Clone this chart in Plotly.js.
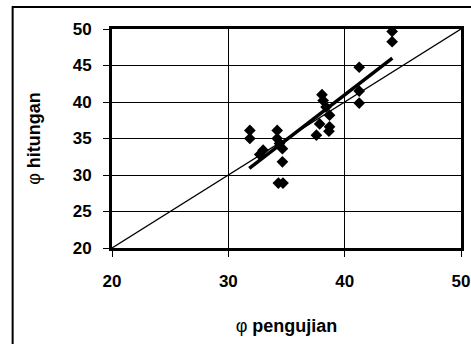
<!DOCTYPE html>
<html>
<head>
<meta charset="utf-8">
<script src="https://cdn.plot.ly/plotly-3.0.1.min.js"></script>
<style>
  html, body { margin: 0; padding: 0; background: #fff; }
  #chart { width: 471px; height: 344px; }
</style>
</head>
<body>
<div id="chart"></div>
<script>
// φ pengujian (measured) vs φ hitungan (calculated)
const phiPengujian = [31.85, 31.85, 32.99, 32.7, 34.2, 34.2, 34.4, 34.65, 34.65, 34.3, 34.7,
                      37.57, 37.85, 38.05, 38.15, 38.4, 38.7, 38.65, 38.7, 41.25, 41.25, 41.25, 44.08, 44.08];
const phiHitungan  = [36.1, 35.0, 33.4, 32.8, 36.1, 35.0, 34.3, 33.6, 31.8, 28.9, 28.9,
                      35.45, 37.0, 41.0, 40.2, 39.3, 38.2, 36.0, 36.6, 44.76, 41.49, 39.85, 49.67, 48.27];
// 1:1 reference line
const lineX = [20, 50];
const lineY = [20, 50];
// trend line (regression) end points
const trendX = [31.8, 44.1];
const trendY = [30.9, 46.0];

const xTicks = [20, 30, 40, 50];
const yTicks = [20, 25, 30, 35, 40, 45, 50];

const FONT = '"Liberation Sans", Arial, sans-serif';

const traces = [
  { x: lineX, y: lineY, mode: 'lines', line: { color: '#000', width: 1.3 }, hoverinfo: 'skip' },
  { x: trendX, y: trendY, mode: 'lines', line: { color: '#000', width: 3.5 }, hoverinfo: 'skip' },
  { x: phiPengujian, y: phiHitungan, mode: 'markers',
    marker: { symbol: 'diamond', size: 9, color: '#000', line: { width: 0 } } }
];

const tickFont = { family: FONT, size: 17, weight: 700, color: '#000' };
const titleFont = { family: FONT, size: 18, weight: 700, color: '#000' };

const layout = {
  width: 471, height: 344,
  margin: { l: 112, r: 9.5, t: 28.5, b: 95.5 },
  paper_bgcolor: '#fff', plot_bgcolor: '#fff',
  showlegend: false,
  font: { family: FONT, color: '#000', size: 17, weight: 700 },
  xaxis: {
    range: [20, 50], tickvals: xTicks, ticktext: xTicks.map(v => '<b>' + v + '</b>'),
    showgrid: true, gridcolor: '#000', gridwidth: 1,
    showline: true, mirror: true, linecolor: '#000', linewidth: 3,
    ticks: 'outside', ticklen: 6, tickwidth: 1, tickcolor: '#000',
    ticklabelstandoff: 10, ticklabeloverflow: 'allow',
    zeroline: false, fixedrange: true,
    tickfont: tickFont,
    title: { text: '<span style="font-weight:normal">φ</span> <b>pengujian</b>',
             font: titleFont, standoff: 29 }
  },
  yaxis: {
    range: [20, 50], tickvals: yTicks, ticktext: yTicks.map(v => '<b>' + v + '</b>'),
    showgrid: true, gridcolor: '#000', gridwidth: 1,
    showline: true, mirror: true, linecolor: '#000', linewidth: 3,
    ticks: 'outside', ticklen: 6, tickwidth: 1, tickcolor: '#000',
    ticklabelstandoff: 8, ticklabeloverflow: 'allow',
    zeroline: false, fixedrange: true,
    tickfont: tickFont,
    title: { text: '<span style="font-weight:normal">φ</span> <b>hitungan</b>',
             font: titleFont, standoff: 28 }
  },
  shapes: [
    { type: 'rect', xref: 'paper', yref: 'paper',
      x0: (12.5 - 112) / 349.5, x1: 1.2, y0: -0.5, y1: 1 + (28.5 - 6.5) / 220,
      line: { color: '#000', width: 2 }, fillcolor: 'rgba(0,0,0,0)', layer: 'below' }
  ]
};

Plotly.newPlot('chart', traces, layout, { staticPlot: true, displayModeBar: false });
</script>
</body>
</html>
